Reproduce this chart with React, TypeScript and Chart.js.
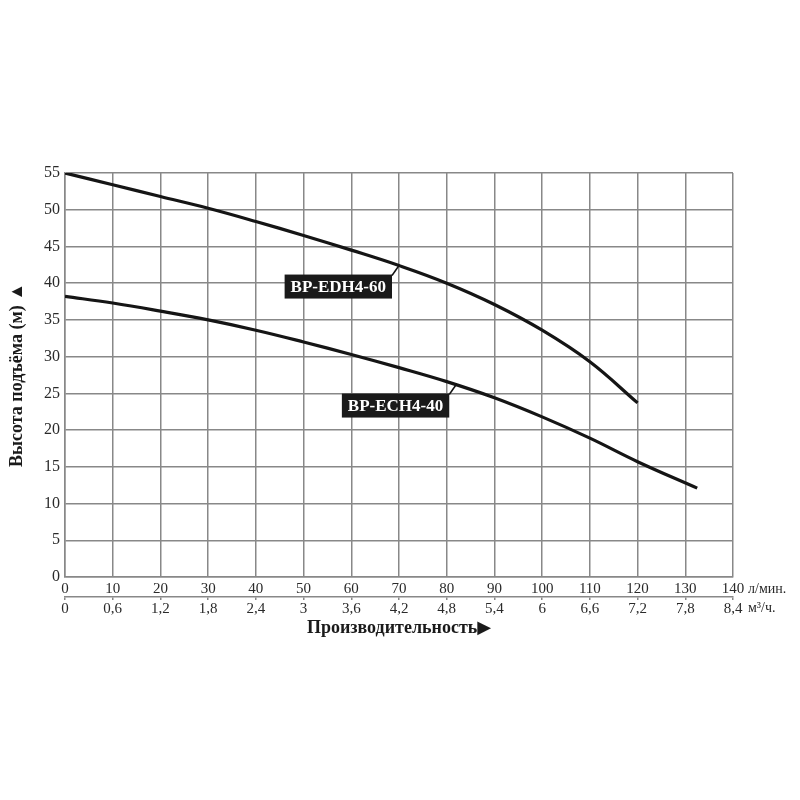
import React, { useEffect, useRef } from "react";
import { Chart, registerables } from "chart.js";

Chart.register(...registerables);

// Flow rate (l/min) and head (m) for each pump
const edhFlow = [0, 10, 20, 30, 40, 50, 60, 70, 80, 90, 100, 110, 120];
const edhHead = [55, 53.4, 51.8, 50.2, 48.4, 46.5, 44.5, 42.4, 40.0, 37.1, 33.6, 29.3, 23.7];

const echFlow = [0, 10, 20, 30, 40, 50, 60, 70, 80, 90, 100, 110, 120, 132.5];
const echHead = [38.2, 37.3, 36.2, 35.0, 33.6, 32.0, 30.3, 28.5, 26.6, 24.4, 21.8, 18.9, 15.7, 12.1];

// Axis tick labels
const lpmLabels = ["0", "10", "20", "30", "40", "50", "60", "70", "80", "90", "100", "110", "120", "130", "140"];
const m3Labels = ["0", "0,6", "1,2", "1,8", "2,4", "3", "3,6", "4,2", "4,8", "5,4", "6", "6,6", "7,2", "7,8", "8,4"];
const headTicks = [0, 5, 10, 15, 20, 25, 30, 35, 40, 45, 50, 55];

// Series labels and where their leader lines touch the curves
const seriesNames = ["BP-EDH4-60", "BP-ECH4-40"];
const labelAnchorFlow = [70, 82];
const labelAnchorHead = [42.4, 26.2];

const unitTop = "л/мин.";
const unitBottom = "м³/ч.";

const SERIF = "'Liberation Serif', 'DejaVu Serif', serif";
const TEXT = "#2a2a2a";
const GRID = "#888888";

export default function App() {
  const ref = useRef<HTMLCanvasElement | null>(null);

  useEffect(() => {
    if (!ref.current) return;

    const labelPlugin = {
      id: "pumpLabels",
      afterDatasetsDraw(chart: any) {
        const ctx = chart.ctx;
        const xs = chart.scales.x;
        const ys = chart.scales.y;
        ctx.save();
        seriesNames.forEach((name, i) => {
          const ax = xs.getPixelForValue(labelAnchorFlow[i]);
          const ay = ys.getPixelForValue(labelAnchorHead[i]);
          ctx.font = `bold 17px ${SERIF}`;
          const tw = ctx.measureText(name).width;
          const bw = tw + 12;
          const bh = 24;
          const right = ax - 7;
          const top = ay + 9;
          ctx.strokeStyle = "#111";
          ctx.lineWidth = 1.5;
          ctx.beginPath();
          ctx.moveTo(right, top + 1);
          ctx.lineTo(ax, ay);
          ctx.stroke();
          ctx.fillStyle = "#1a1a1a";
          ctx.fillRect(right - bw, top, bw, bh);
          ctx.fillStyle = "#fff";
          ctx.textAlign = "center";
          ctx.textBaseline = "middle";
          ctx.fillText(name, right - bw / 2, top + bh / 2 + 1);
        });
        // unit captions after the last tick labels
        const x = chart.scales.x;
        const x2 = chart.scales.x2;
        ctx.font = `14px ${SERIF}`;
        ctx.fillStyle = TEXT;
        ctx.textAlign = "left";
        ctx.textBaseline = "middle";
        ctx.fillText(unitTop, x.right + 15, x.top + 12);
        ctx.fillText(unitBottom, x2.right + 15, x2.top + 11);
        ctx.restore();
      },
    };

    const lineStyle = {
      borderColor: "#151515",
      borderWidth: 3.2,
      pointRadius: 0,
      tension: 0.4,
      fill: false,
    };

    const chart = new Chart(ref.current, {
      type: "line",
      data: {
        datasets: [
          {
            label: seriesNames[0],
            data: edhFlow.map((f, i) => ({ x: f, y: edhHead[i] })),
            ...lineStyle,
          },
          {
            label: seriesNames[1],
            data: echFlow.map((f, i) => ({ x: f, y: echHead[i] })),
            ...lineStyle,
          },
        ],
      },
      plugins: [labelPlugin],
      options: {
        responsive: false,
        animation: false,
        devicePixelRatio: 1,
        layout: { padding: { left: 0, right: 67, top: 173, bottom: 161 } },
        plugins: { legend: { display: false }, tooltip: { enabled: false } },
        scales: {
          x: {
            type: "linear",
            position: "bottom",
            min: 0,
            max: 140,
            afterBuildTicks: (s: any) => {
              s.ticks = lpmLabels.map((_, i) => ({ value: i * 10 }));
            },
            afterFit: (s: any) => {
              s.height = 20;
            },
            grid: { color: GRID, lineWidth: 1.5, drawTicks: false },
            border: { color: GRID, width: 1.5 },
            ticks: {
              padding: 3,
              color: TEXT,
              font: { family: SERIF, size: 15 },
              maxRotation: 0,
              autoSkip: false,
              callback: (_v: any, i: number) => lpmLabels[i],
            },
          },
          x2: {
            type: "linear",
            position: "bottom",
            min: 0,
            max: 140,
            afterBuildTicks: (s: any) => {
              s.ticks = m3Labels.map((_, i) => ({ value: i * 10 }));
            },
            afterFit: (s: any) => {
              s.height = 42;
            },
            grid: { drawOnChartArea: false, color: GRID, lineWidth: 1.5, tickLength: 3 },
            border: { color: GRID, width: 1.5 },
            ticks: {
              padding: 0,
              color: TEXT,
              font: { family: SERIF, size: 15 },
              maxRotation: 0,
              autoSkip: false,
              callback: (_v: any, i: number) => m3Labels[i],
            },
            title: {
              display: true,
              text: "Производительность▶",
              color: "#1a1a1a",
              font: { family: SERIF, size: 18, weight: "bold" },
              padding: 0,
            },
          },
          y: {
            type: "linear",
            min: 0,
            max: 55,
            afterBuildTicks: (s: any) => {
              s.ticks = headTicks.map((v) => ({ value: v }));
            },
            afterFit: (s: any) => {
              s.width = 65;
            },
            grid: { color: GRID, lineWidth: 1.5, drawTicks: false },
            border: { color: GRID, width: 1.5 },
            ticks: {
              padding: 5,
              color: TEXT,
              font: { family: SERIF, size: 16 },
              callback: (v: any) => String(v),
            },
            title: {
              display: true,
              text: "Высота подъёма (м) ▲",
              color: "#1a1a1a",
              font: { family: SERIF, size: 18, weight: "bold" },
              padding: { top: 7, bottom: 0 },
            },
          },
        },
      },
    } as any);

    return () => chart.destroy();
  }, []);

  return (
    <div style={{ position: "absolute", left: 0, top: 0, width: 800, height: 800, background: "#fff" }}>
      <canvas ref={ref} width={800} height={800} style={{ display: "block" }} />
    </div>
  );
}
